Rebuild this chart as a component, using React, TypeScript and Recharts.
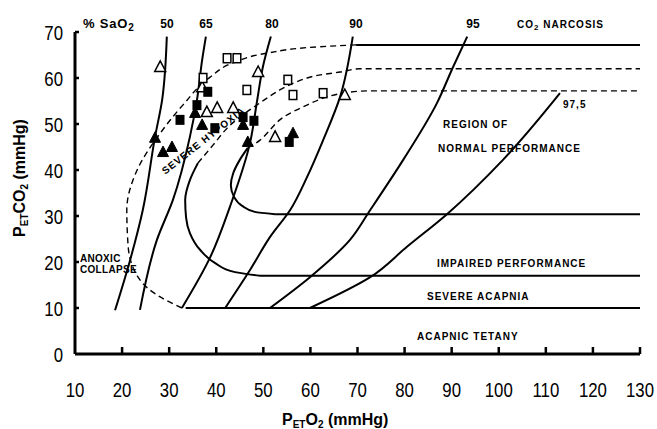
import React from "react";
import { ComposedChart, Line, Scatter, XAxis, YAxis, Customized } from "recharts";

// [PETO2, PETCO2] pairs
const sat50 = [[18.5, 9.5], [21.7, 20.4], [24.4, 31.3], [27.0, 47.2], [28.5, 55.2], [29.5, 69]];
const sat65 = [[23.8, 9.6], [27.4, 24.8], [30.8, 33.5], [34.4, 47.2], [35.9, 55.2], [37.0, 63.9], [37.8, 69]];
const sat80 = [[32.7, 10], [38.7, 21], [42.9, 32], [47.2, 46], [48.7, 55.2], [49.9, 62.4], [51.6, 69]];
const sat90 = [[41.9, 10], [47.2, 18.3], [51.4, 25.4], [55.7, 31.3], [59.3, 38.5], [62.7, 46.5], [66.3, 55.9], [69, 69]];
const sat95 = [[51.4, 10], [59.9, 16.7], [68.4, 24.8], [72.7, 31.3], [79.7, 42.2], [86.9, 54.6], [90.3, 62.4], [93.3, 69]];
const sat975 = [[59.9, 10], [72.7, 16.7], [80.5, 23.3], [89, 30.4], [100.9, 42.2], [113, 56.7]];

// region boundaries
const hypoxiaEdge = [[32.7, 10], [28.1, 12.4], [23.8, 16.1], [21.3, 23.3], [21.0, 31.3], [23.2, 40], [28.1, 48], [32.9, 54.1], [38.7, 60.2], [43.6, 63.3], [50.8, 65.4], [62, 66.8], [69.7, 67.2]];
const narcosisLine = [[69.7, 67.2], [130, 67.2]];
const tetanyLine = [[33.5, 10], [130, 10]];
const impairedDash = [[36.1, 41.5], [39.3, 45.4], [42.3, 49.1], [45, 51.5], [49.3, 54.6], [53.5, 57.4], [59.3, 60], [66.3, 61.3], [70.5, 62], [130, 62]];
const impairedEdge = [[49.3, 17], [44, 17.8], [39.7, 19.8], [36.6, 22.6], [34.4, 26.3], [33.6, 29.6], [33.4, 33.5], [34.4, 37.8], [36.1, 41.5]];
const acapniaLine = [[49.3, 17], [130, 17]];
const normalDash = [[46.7, 44.8], [49.3, 46.5], [53.5, 50.9], [58.4, 53.7], [63.5, 55.9], [66.9, 56.7], [72.7, 57.2], [130, 57.2]];
const normalEdge = [[52.5, 30.4], [48.2, 30.9], [45.5, 32.2], [43.8, 34.1], [43.1, 36.7], [43.6, 39.3], [45, 42.2], [46.7, 44.8]];
const impairedLine = [[52.5, 30.4], [130, 30.4]];

// subjects
const openTri = [[28.1, 62.4], [37.0, 58.0], [48.9, 61.3], [38.0, 52.6], [40.2, 53.5], [43.6, 53.5], [52.5, 47.2], [67.3, 56.3]];
const openSq = [[37.2, 60.0], [42.3, 64.3], [44.4, 64.3], [46.5, 57.4], [55.2, 59.6], [56.3, 56.3], [62.7, 56.7]];
const filledSq = [[38.2, 57.0], [35.9, 54.1], [32.3, 50.9], [39.7, 49.1], [45.7, 51.5], [48.0, 50.7], [55.5, 46.1]];
const filledTri = [[35.5, 52.4], [37, 49.8], [45.7, 49.8], [46.7, 46.1], [27.0, 47.0], [28.7, 43.9], [30.6, 45.0], [56.3, 48]];

const xTicks = [10, 20, 30, 40, 50, 60, 70, 80, 90, 100, 110, 120, 130];
const yTicks = [0, 10, 20, 30, 40, 50, 60, 70];

const toPts = (a: number[][]) => a.map(([x, y]) => ({ x, y }));

const solid = [
  { id: "s50", d: sat50, type: "monotoneY" },
  { id: "s65", d: sat65, type: "monotoneY" },
  { id: "s80", d: sat80, type: "monotoneY" },
  { id: "s90", d: sat90, type: "monotoneY" },
  { id: "s95", d: sat95, type: "monotoneY" },
  { id: "s975", d: sat975, type: "monotoneY" },
  { id: "narc", d: narcosisLine, type: "linear" },
  { id: "tet", d: tetanyLine, type: "linear" },
  { id: "impE", d: impairedEdge, type: "monotoneY" },
  { id: "acap", d: acapniaLine, type: "linear" },
  { id: "normE", d: normalEdge, type: "monotoneY" },
  { id: "imp", d: impairedLine, type: "linear" },
];
const dashed = [
  { id: "hyp", d: hypoxiaEdge, type: "monotoneY" },
  { id: "impD", d: impairedDash, type: "monotoneX" },
  { id: "normD", d: normalDash, type: "monotoneX" },
];

const tickFont = "'Liberation Sans', Arial, sans-serif";
const noteFont = "'Liberation Sans', Arial, sans-serif";

const OpenTri = ({ cx, cy }: any) => (
  <polygon points={`${cx},${cy - 6} ${cx + 5.5},${cy + 4.5} ${cx - 5.5},${cy + 4.5}`} fill="#fff" stroke="#000" strokeWidth={1.5} />
);
const FilledTri = ({ cx, cy }: any) => (
  <polygon points={`${cx},${cy - 6} ${cx + 5.5},${cy + 4.5} ${cx - 5.5},${cy + 4.5}`} fill="#000" stroke="#000" strokeWidth={1} />
);
const OpenSq = ({ cx, cy }: any) => (
  <rect x={cx - 3.8} y={cy - 4.5} width={7.6} height={9} fill="#fff" stroke="#000" strokeWidth={1.5} />
);
const FilledSq = ({ cx, cy }: any) => (
  <rect x={cx - 4.5} y={cy - 5} width={9} height={10} fill="#000" />
);

// tick labels in the original are a condensed face
const XTick = ({ x, y, payload }: any) => (
  <g>
    {payload.value > 10 && <line x1={x} x2={x} y1={y} y2={y - 7} stroke="#000" strokeWidth={2.5} />}
    <text
      transform={`translate(${x},${y + 43}) scale(0.8,1)`}
      textAnchor="middle"
      fontSize={21}
      fontFamily={tickFont}
      fill="#000"
    >
      {payload.value}
    </text>
  </g>
);

const YTick = ({ x, y, payload }: any) => (
  <g>
    {payload.value > 0 && <line x1={x} x2={x + 4} y1={y} y2={y} stroke="#000" strokeWidth={2.5} />}
    <text
      transform={`translate(${x - 12},${y + 7.5}) scale(0.8,1)`}
      textAnchor="end"
      fontSize={21}
      fontFamily={tickFont}
      fill="#000"
    >
      {payload.value}
    </text>
  </g>
);

const Notes = () => (
  <g fontFamily={noteFont} fontWeight="bold" fill="#000">
    <text x={83} y={28} fontSize={13} letterSpacing={0.8}>
      % SaO<tspan fontSize={10} dy={3}>2</tspan>
    </text>
    <g fontSize={12} textAnchor="middle">
      <text x={167} y={28}>50</text>
      <text x={206} y={28}>65</text>
      <text x={272} y={28}>80</text>
      <text x={356} y={28}>90</text>
      <text x={473} y={28}>95</text>
    </g>
    <g fontSize={10} letterSpacing={1}>
      <text x={517} y={28}>
        CO<tspan fontSize={8} dy={2}>2</tspan><tspan dy={-2}> NARCOSIS</tspan>
      </text>
      <text x={563} y={108}>97,5</text>
      <text x={443} y={128}>REGION OF</text>
      <text x={438} y={152}>NORMAL PERFORMANCE</text>
      <text x={437} y={267}>IMPAIRED PERFORMANCE</text>
      <text x={427} y={300}>SEVERE ACAPNIA</text>
      <text x={417} y={340}>ACAPNIC TETANY</text>
      <text x={203} y={140} dy={4} textAnchor="middle" transform="rotate(-38 203 140)">
        SEVERE HYPOXIA
      </text>
    </g>
    <g fontSize={10} letterSpacing={0.3}>
      <text x={80} y={262}>ANOXIC</text>
      <text x={80} y={273}>COLLAPSE</text>
    </g>
    <text x={282} y={425} fontSize={16}>
      P<tspan fontSize={10} dy={3}>ET</tspan><tspan dy={-3}>O</tspan><tspan fontSize={10} dy={3}>2</tspan>
      <tspan dy={-3}> (mmHg)</tspan>
    </text>
    <text x={25} y={178} fontSize={16} textAnchor="middle" transform="rotate(-90 25 178)">
      P<tspan fontSize={10} dy={3}>ET</tspan><tspan dy={-3}>CO</tspan><tspan fontSize={10} dy={3}>2</tspan>
      <tspan dy={-3}> (mmHg)</tspan>
    </text>
  </g>
);

export default function App() {
  return (
    <div style={{ position: "absolute", left: 0, top: 0, background: "#fff" }}>
      <ComposedChart width={657} height={429} margin={{ top: 32, right: 17, left: 0, bottom: 0 }}>
        <XAxis
          dataKey="x"
          type="number"
          domain={[10, 130]}
          ticks={xTicks}
          allowDataOverflow
          height={75}
          axisLine={{ stroke: "#000", strokeWidth: 3 }}
          tickLine={false}
          tickSize={0}
          tickMargin={0}
          tick={<XTick />}
          interval={0}
        />
        <YAxis
          dataKey="y"
          type="number"
          domain={[0, 70]}
          ticks={yTicks}
          allowDataOverflow
          width={75}
          axisLine={{ stroke: "#000", strokeWidth: 3 }}
          tickLine={false}
          tickSize={0}
          tickMargin={0}
          tick={<YTick />}
          interval={0}
        />
        {solid.map((c) => (
          <Line
            key={c.id}
            data={toPts(c.d)}
            dataKey="y"
            type={c.type as any}
            stroke="#000"
            strokeWidth={2}
            dot={false}
            activeDot={false}
            isAnimationActive={false}
          />
        ))}
        {dashed.map((c) => (
          <Line
            key={c.id}
            data={toPts(c.d)}
            dataKey="y"
            type={c.type as any}
            stroke="#000"
            strokeWidth={1.4}
            strokeDasharray="6 4"
            dot={false}
            activeDot={false}
            isAnimationActive={false}
          />
        ))}
        <Scatter data={toPts(openTri)} dataKey="y" shape={<OpenTri />} isAnimationActive={false} />
        <Scatter data={toPts(openSq)} dataKey="y" shape={<OpenSq />} isAnimationActive={false} />
        <Scatter data={toPts(filledSq)} dataKey="y" shape={<FilledSq />} isAnimationActive={false} />
        <Scatter data={toPts(filledTri)} dataKey="y" shape={<FilledTri />} isAnimationActive={false} />
        <Customized component={<Notes />} />
      </ComposedChart>
    </div>
  );
}
